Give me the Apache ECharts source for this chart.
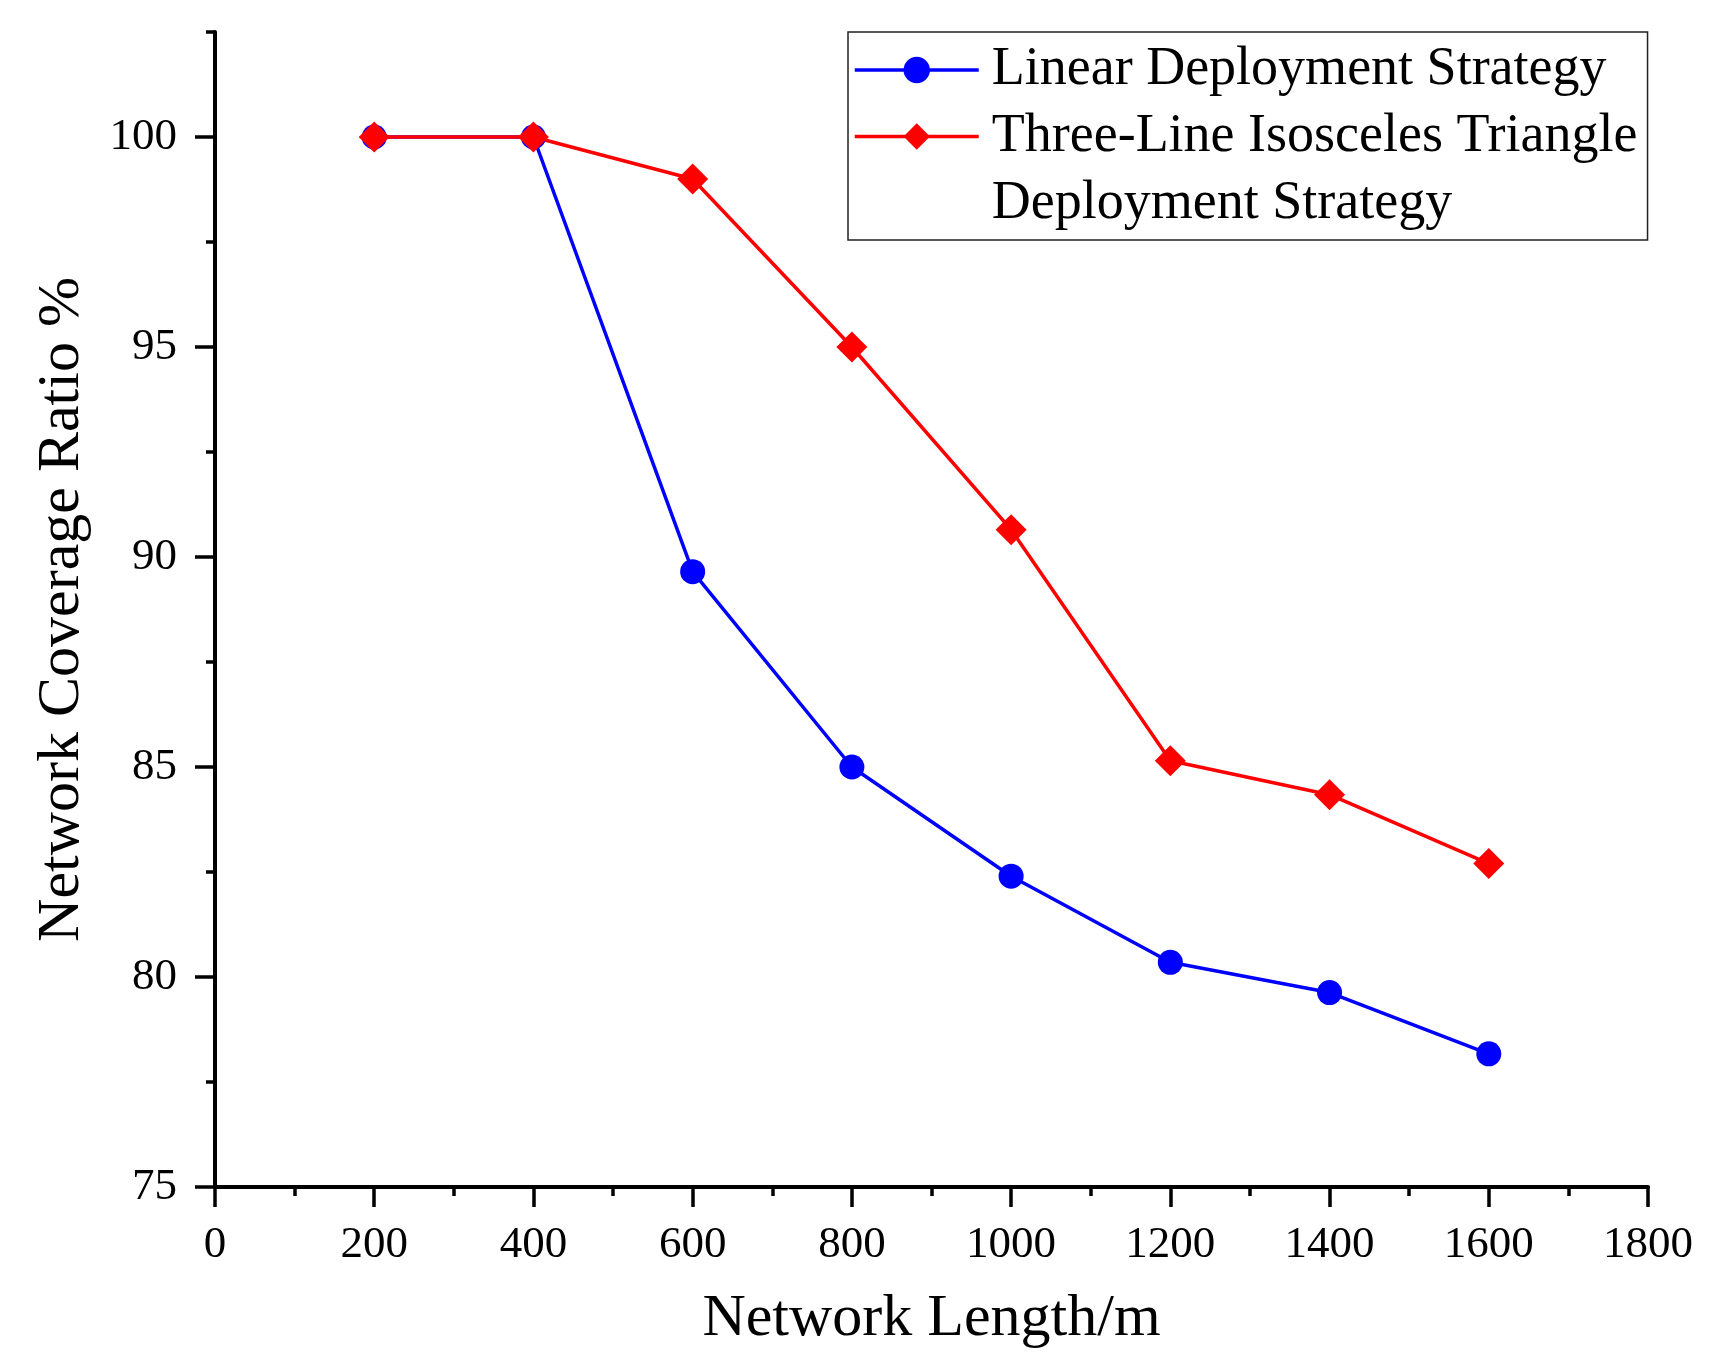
<!DOCTYPE html>
<html>
<head>
<meta charset="utf-8">
<script src="https://cdn.jsdelivr.net/npm/echarts@6/dist/echarts.min.js"></script>
<style>
  html, body { margin: 0; padding: 0; background: #fff; }
  #chart { width: 1717px; height: 1368px; }
</style>
</head>
<body>
<div id="chart"></div>
<script>
const networkLength = [200, 400, 600, 800, 1000, 1200, 1400, 1600];
const linearCoverage = [100, 100, 89.65, 85.0, 82.4, 80.35, 79.63, 78.17];
const triangleCoverage = [100, 100, 99.0, 95.0, 90.65, 85.15, 84.34, 82.7];
const yMajorTicks = [75, 80, 85, 90, 95, 100];
const seriesNames = ['Linear Deployment Strategy', 'Three-Line Isosceles Triangle Deployment Strategy'];

const FONT = 'Liberation Serif';
const chart = echarts.init(document.getElementById('chart'), null, { renderer: 'canvas' });

const toPairs = (xs, ys) => xs.map((x, i) => [x, ys[i]]);

chart.setOption({
  animation: false,
  backgroundColor: '#fff',
  grid: { left: 215, right: 69, top: 32, bottom: 181, outerBoundsMode: 'none' },
  legend: {
    orient: 'vertical',
    left: 848,
    top: 32,
    padding: [4, 10, 3, 5],
    itemWidth: 124,
    itemHeight: 33,
    itemGap: -67.5,
    borderColor: '#222',
    borderWidth: 1.5,
    lineStyle: { width: 3.5 },
    textStyle: { fontFamily: FONT, fontSize: 54, color: '#000', lineHeight: 67, padding: [0, 0, 0, 8] },
    formatter: function (name) {
      return name === seriesNames[1] ? '\nThree-Line Isosceles Triangle\nDeployment Strategy' : name;
    },
    data: seriesNames
  },
  xAxis: {
    type: 'value',
    min: 0,
    max: 1800,
    interval: 200,
    name: 'Network Length/m',
    nameLocation: 'middle',
    nameGap: 102,
    nameTextStyle: { fontFamily: FONT, fontSize: 60, color: '#000' },
    axisLine: { show: true, onZero: false, lineStyle: { color: '#000', width: 4 } },
    axisTick: { show: true, length: 20, lineStyle: { color: '#000', width: 3.5 } },
    minorTick: { show: true, splitNumber: 2, length: 9, lineStyle: { color: '#000', width: 3.5 } },
    axisLabel: { fontFamily: FONT, fontSize: 45, color: '#000', margin: 36, formatter: function (v) { return String(v); } },
    splitLine: { show: false },
    minorSplitLine: { show: false }
  },
  yAxis: [
    {
      type: 'value',
      min: 75,
      max: 102.5,
      interval: 5,
      position: 'left',
      name: 'Network Coverage Ratio %',
      nameLocation: 'middle',
      nameGap: 123,
      nameTextStyle: { fontFamily: FONT, fontSize: 60, color: '#000' },
      axisLine: { show: true, onZero: false, lineStyle: { color: '#000', width: 4 } },
      axisTick: { show: true, length: 20, customValues: yMajorTicks, lineStyle: { color: '#000', width: 3.5 } },
      axisLabel: { fontFamily: FONT, fontSize: 45, color: '#000', margin: 38, customValues: yMajorTicks },
      splitLine: { show: false }
    },
    {
      type: 'value',
      min: 75,
      max: 102.5,
      interval: 2.5,
      position: 'left',
      offset: 0,
      axisLine: { show: false },
      axisTick: { show: true, length: 9, lineStyle: { color: '#000', width: 3.5 } },
      axisLabel: { show: false },
      splitLine: { show: false }
    }
  ],
  series: [
    {
      name: seriesNames[0],
      type: 'line',
      yAxisIndex: 0,
      data: toPairs(networkLength, linearCoverage),
      symbol: 'circle',
      symbolSize: 25,
      color: '#0000ff',
      lineStyle: { color: '#0000ff', width: 3.5 },
      itemStyle: { color: '#0000ff' }
    },
    {
      name: seriesNames[1],
      type: 'line',
      yAxisIndex: 0,
      data: toPairs(networkLength, triangleCoverage),
      symbol: 'diamond',
      symbolSize: [31, 31],
      color: '#ff0000',
      lineStyle: { color: '#ff0000', width: 3.5 },
      itemStyle: { color: '#ff0000' }
    }
  ]
});
</script>
</body>
</html>
